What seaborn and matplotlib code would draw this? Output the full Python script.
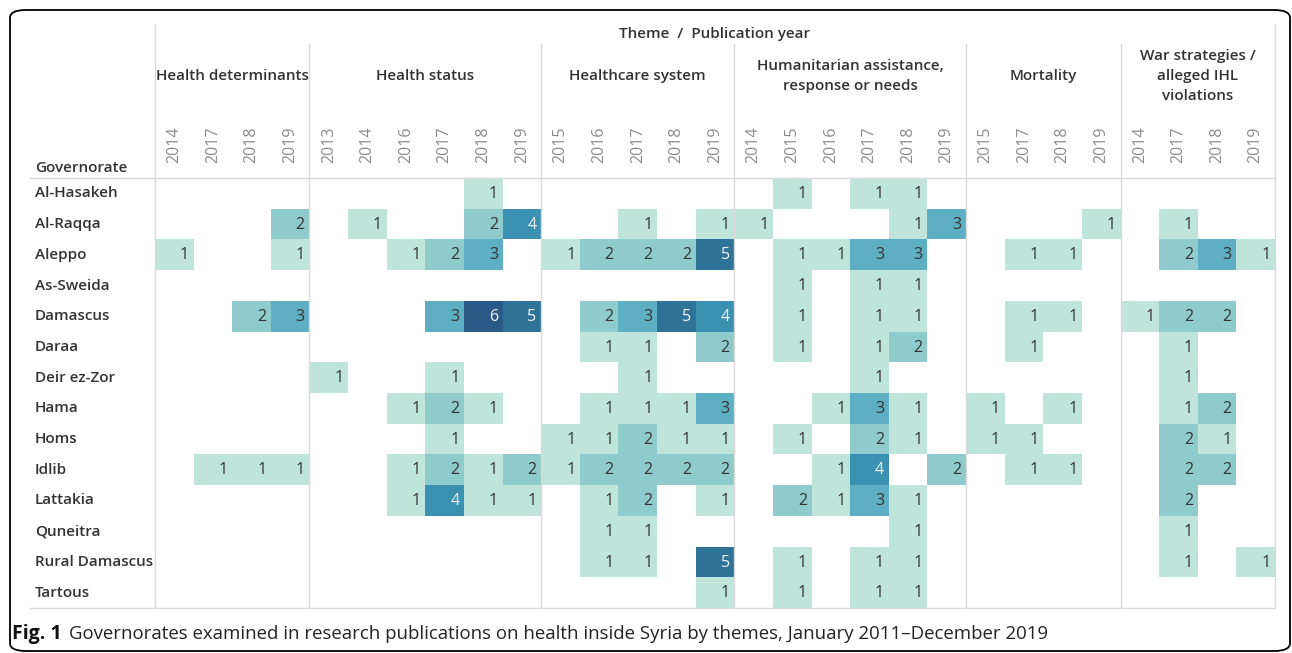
import numpy as np
import pandas as pd
import matplotlib.pyplot as plt
import seaborn as sns
from matplotlib.colors import ListedColormap
from matplotlib.patches import FancyBboxPatch
from matplotlib.transforms import blended_transform_factory

# ---- data ----
themes = ["Health determinants", "Health status", "Healthcare system",
          "Humanitarian assistance,\nresponse or needs", "Mortality",
          "War strategies /\nalleged IHL\nviolations"]
theme_years = [
    ["2014", "2017", "2018", "2019"],
    ["2013", "2014", "2016", "2017", "2018", "2019"],
    ["2015", "2016", "2017", "2018", "2019"],
    ["2014", "2015", "2016", "2017", "2018", "2019"],
    ["2015", "2017", "2018", "2019"],
    ["2014", "2017", "2018", "2019"],
]
governorates = ["Al-Hasakeh", "Al-Raqqa", "Aleppo", "As-Sweida", "Damascus", "Daraa",
                "Deir ez-Zor", "Hama", "Homs", "Idlib", "Lattakia", "Quneitra",
                "Rural Damascus", "Tartous"]

# counts per governorate, columns follow theme_years in order (0 = none)
al_hasakeh     = [0,0,0,0, 0,0,0,0,1,0, 0,0,0,0,0, 0,1,0,1,1,0, 0,0,0,0, 0,0,0,0]
al_raqqa       = [0,0,0,2, 0,1,0,0,2,4, 0,0,1,0,1, 1,0,0,0,1,3, 0,0,0,1, 0,1,0,0]
aleppo         = [1,0,0,1, 0,0,1,2,3,0, 1,2,2,2,5, 0,1,1,3,3,0, 0,1,1,0, 0,2,3,1]
as_sweida      = [0,0,0,0, 0,0,0,0,0,0, 0,0,0,0,0, 0,1,0,1,1,0, 0,0,0,0, 0,0,0,0]
damascus       = [0,0,2,3, 0,0,0,3,6,5, 0,2,3,5,4, 0,1,0,1,1,0, 0,1,1,0, 1,2,2,0]
daraa          = [0,0,0,0, 0,0,0,0,0,0, 0,1,1,0,2, 0,1,0,1,2,0, 0,1,0,0, 0,1,0,0]
deir_ez_zor    = [0,0,0,0, 1,0,0,1,0,0, 0,0,1,0,0, 0,0,0,1,0,0, 0,0,0,0, 0,1,0,0]
hama           = [0,0,0,0, 0,0,1,2,1,0, 0,1,1,1,3, 0,0,1,3,1,0, 1,0,1,0, 0,1,2,0]
homs           = [0,0,0,0, 0,0,0,1,0,0, 1,1,2,1,1, 0,1,0,2,1,0, 1,1,0,0, 0,2,1,0]
idlib          = [0,1,1,1, 0,0,1,2,1,2, 1,2,2,2,2, 0,0,1,4,0,2, 0,1,1,0, 0,2,2,0]
lattakia       = [0,0,0,0, 0,0,1,4,1,1, 0,1,2,0,1, 0,2,1,3,1,0, 0,0,0,0, 0,2,0,0]
quneitra       = [0,0,0,0, 0,0,0,0,0,0, 0,1,1,0,0, 0,0,0,0,1,0, 0,0,0,0, 0,1,0,0]
rural_damascus = [0,0,0,0, 0,0,0,0,0,0, 0,1,1,0,5, 0,1,0,1,1,0, 0,0,0,0, 0,1,0,1]
tartous        = [0,0,0,0, 0,0,0,0,0,0, 0,0,0,0,1, 0,1,0,1,1,0, 0,0,0,0, 0,0,0,0]

rows = [al_hasakeh, al_raqqa, aleppo, as_sweida, damascus, daraa, deir_ez_zor,
        hama, homs, idlib, lattakia, quneitra, rural_damascus, tartous]

cols = pd.MultiIndex.from_tuples(
    [(t, y) for t, ys in zip(themes, theme_years) for y in ys])
df = pd.DataFrame(rows, index=governorates, columns=cols).replace(0, np.nan)

palette = ["#bfe5da", "#8fcacd", "#5eafc3", "#3b91b1", "#2f7399", "#2c5a88"]

# ---- figure ----
W, H = 1292, 653
sns.set_style("white")
plt.rcParams["font.family"] = ["Open Sans", "DejaVu Sans"]

fig = plt.figure(figsize=(W / 100, H / 100), dpi=100)

def fx(x):
    return x / W

def fy(y):
    return 1 - y / H

x0, x1, y0, y1 = 155, 1275, 178, 608
ax = fig.add_axes([fx(x0), fy(y1), fx(x1 - x0), (y1 - y0) / H])

sns.heatmap(df, ax=ax, cmap=ListedColormap(palette), vmin=0.5, vmax=6.5,
            cbar=False, linewidths=0, square=False)

# cell labels, right aligned in the cell
vals = df.values
for i in range(vals.shape[0]):
    for j in range(vals.shape[1]):
        v = vals[i, j]
        if np.isnan(v):
            continue
        ax.text(j + 0.88, i + 0.52, f"{int(v)}", ha="right", va="center",
                fontsize=11.5, color="#f2f6f8" if v >= 4 else "#333333")

# year tick labels on top
ax.xaxis.tick_top()
ax.set_xticks(np.arange(vals.shape[1]) + 0.5)
ax.set_xticklabels([y for ys in theme_years for y in ys], rotation=90,
                   fontsize=11.5, color="#8c8c8c")
ax.tick_params(axis="x", length=0, pad=11)
ax.set_xlabel("")
ax.set_ylabel("")

# governorate labels left aligned
ax.set_yticks(np.arange(len(governorates)) + 0.5)
ax.set_yticklabels(governorates, fontsize=11, color="#333333", fontweight="semibold")
ax.tick_params(axis="y", length=0, pad=(x0 - 35) * 0.72)
for lab in ax.get_yticklabels():
    lab.set_ha("left")
    lab.set_va("center")
for s in ax.spines.values():
    s.set_visible(False)

# grid lines of the header/table
grid = "#d9d9d9"
bt = blended_transform_factory(ax.transData, fig.transFigure)
ncol = vals.shape[1]
edges = np.cumsum([0] + [len(ys) for ys in theme_years])
ax.plot([0, 0], [fy(24), fy(y1)], transform=bt, color=grid, lw=1, clip_on=False)
ax.plot([ncol, ncol], [fy(24), fy(y1)], transform=bt, color=grid, lw=1, clip_on=False)
for e in edges[1:-1]:
    ax.plot([e, e], [fy(44), fy(y1)], transform=bt, color=grid, lw=1, clip_on=False)
fig.add_artist(plt.Line2D([fx(30), fx(x1)], [fy(y0), fy(y0)], color=grid, lw=1))
fig.add_artist(plt.Line2D([fx(30), fx(x1)], [fy(y1), fy(y1)], color=grid, lw=1))

# header texts
hdr = "#333333"
fig.text(fx((x0 + x1) / 2), fy(34), "Theme  /  Publication year", ha="center",
         va="center", fontsize=11, color=hdr, fontweight="semibold")
for t, a, b in zip(themes, edges[:-1], edges[1:]):
    ax.text((a + b) / 2, fy(76), t, transform=bt, ha="center", va="center",
            fontsize=11, color=hdr, fontweight="semibold", linespacing=1.55)
fig.text(fx(35), fy(168), "Governorate", ha="left", va="center", fontsize=11,
         color=hdr, fontweight="semibold")

# caption
fig.text(fx(12), fy(634), "Fig. 1", ha="left", va="center", fontsize=14,
         fontweight="bold", color="#111111")
fig.text(fx(69), fy(634),
         "Governorates examined in research publications on health inside Syria by themes, January 2011\u2013December 2019",
         ha="left", va="center", fontsize=13.4, color="#222222")

# outer rounded frame
frame = FancyBboxPatch((fx(10), fy(651)), fx(1280), (651 - 10) / H,
                       boxstyle="round,pad=0,rounding_size=0.012",
                       transform=fig.transFigure, fill=False, ec="black", lw=1.3)
fig.add_artist(frame)

fig.savefig("out.png", dpi=100)
